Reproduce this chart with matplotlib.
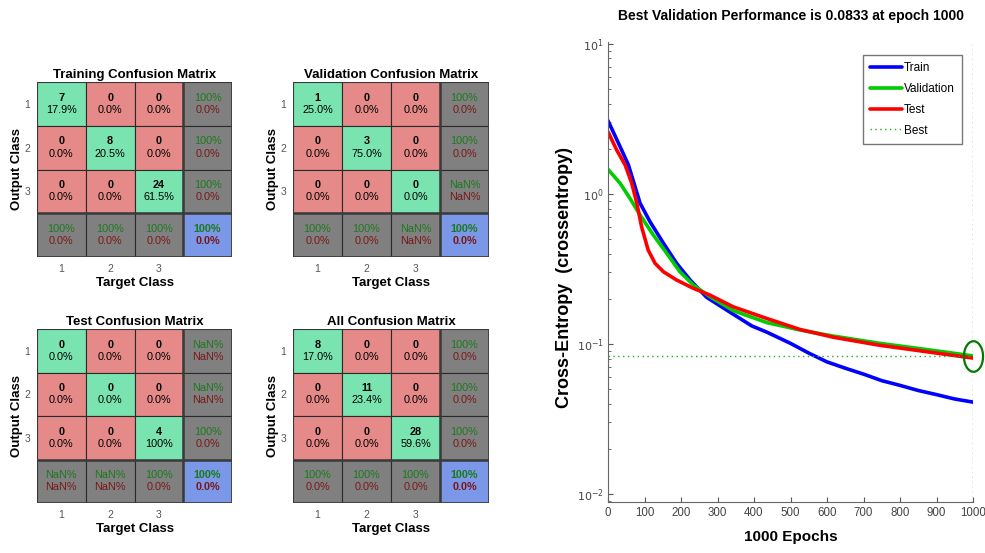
import numpy as np
import matplotlib
matplotlib.use("Agg")
import matplotlib.pyplot as plt
from matplotlib.patches import Rectangle
from matplotlib.path import Path

# confusion matrix counts (rows = output class, cols = target class)
train_counts = [[7, 0, 0], [0, 8, 0], [0, 0, 24]]
val_counts = [[1, 0, 0], [0, 3, 0], [0, 0, 0]]
test_counts = [[0, 0, 0], [0, 0, 0], [0, 0, 4]]
all_counts = [[8, 0, 0], [0, 11, 0], [0, 0, 28]]
class_labels = ["1", "2", "3"]

# performance curves
train_epochs = [0, 33, 56, 74, 88, 115, 152, 188, 225, 270, 343, 394, 435, 500,
                550, 600, 650, 700, 750, 800, 850, 900, 950, 1000]
train_ce = [3.08, 2.07, 1.56, 1.12, 0.867, 0.654, 0.469, 0.345, 0.267, 0.205,
            0.158, 0.132, 0.12, 0.101, 0.087, 0.076, 0.069, 0.063, 0.057, 0.053,
            0.049, 0.046, 0.043, 0.041]
val_epochs = [0, 33, 60, 88, 124, 161, 197, 234, 279, 343, 435, 526, 617, 745,
              800, 900, 1000]
val_ce = [1.46, 1.18, 0.936, 0.724, 0.533, 0.402, 0.303, 0.247, 0.207, 0.167,
          0.139, 0.124, 0.113, 0.101, 0.097, 0.090, 0.0833]
test_epochs = [0, 24, 47, 65, 79, 92, 110, 129, 152, 188, 234, 279, 343, 435,
               526, 617, 745, 800, 900, 1000]
test_ce = [2.60, 1.96, 1.56, 1.18, 0.867, 0.605, 0.423, 0.345, 0.303, 0.267,
           0.235, 0.212, 0.177, 0.148, 0.125, 0.111, 0.098, 0.094, 0.087, 0.0806]
best_epoch = 1000
best_perf = 0.0833

plt.rcParams["font.family"] = ["Liberation Sans", "DejaVu Sans"]

GREEN = "#7AE4B0"
RED = "#E68A89"
GRAY = "#808080"
BLUE = "#7A97E8"
TXT_G = "#1C7A1C"
TXT_R = "#7A1818"
FS = 7.8


def pct(p):
    if np.isnan(p):
        return "NaN%"
    if p == 100:
        return "100%"
    return f"{p:.1f}%"


def rate(num, den):
    if den == 0:
        return np.nan
    return 100.0 * num / den


def cell(ax, j, i, col, top, bottom, c1, c2, bold2=False, bold1=True):
    ax.add_patch(Rectangle((j, i), 1, 1, facecolor=col, edgecolor="#2a2a2a", lw=0.8))
    ax.text(j + 0.5, i + 0.36, top, ha="center", va="center", fontsize=FS,
            color=c1, fontweight="bold" if bold1 else "normal")
    ax.text(j + 0.5, i + 0.64, bottom, ha="center", va="center", fontsize=FS,
            color=c2, fontweight="bold" if bold2 else "normal")


def draw_cm(ax, counts, title):
    c = np.array(counts)
    total = c.sum()
    for i in range(3):
        for j in range(3):
            col = GREEN if i == j else RED
            cell(ax, j, i, col, str(c[i, j]), pct(rate(c[i, j], total)), "black", "black")
    # row summaries (right column)
    for i in range(3):
        r = rate(c[i, i], c[i].sum())
        cell(ax, 3, i, GRAY, pct(r), pct(100 - r), TXT_G, TXT_R, bold1=False)
    # column summaries (bottom row)
    for j in range(3):
        r = rate(c[j, j], c[:, j].sum())
        cell(ax, j, 3, GRAY, pct(r), pct(100 - r), TXT_G, TXT_R, bold1=False)
    r = rate(np.trace(c), total)
    cell(ax, 3, 3, BLUE, pct(r), pct(100 - r), TXT_G, TXT_R, bold2=True)
    ax.plot([3, 3], [0, 4], color="#3a3a3a", lw=1.8)
    ax.plot([0, 4], [3, 3], color="#3a3a3a", lw=1.8)
    ax.add_patch(Rectangle((0, 0), 4, 4, fill=False, edgecolor="#3a3a3a", lw=1.2))
    ax.set_xlim(0, 4)
    ax.set_ylim(4, 0)
    ax.set_xticks([0.5, 1.5, 2.5])
    ax.set_xticklabels(class_labels)
    ax.set_yticks([0.5, 1.5, 2.5])
    ax.set_yticklabels(class_labels)
    ax.tick_params(length=0, labelsize=7.5, labelcolor="#555555", pad=5)
    for s in ax.spines.values():
        s.set_visible(False)
    ax.set_title(title, fontsize=9.5, fontweight="bold", pad=3)
    ax.set_xlabel("Target Class", fontsize=9.5, fontweight="bold", labelpad=2)
    ax.set_ylabel("Output Class", fontsize=9.5, fontweight="bold", labelpad=1)


W, H = 985, 553
fig = plt.figure(figsize=(W / 100, H / 100), dpi=100)


def px_axes(x0, y0, x1, y1):
    return fig.add_axes([x0 / W, 1 - y1 / H, (x1 - x0) / W, (y1 - y0) / H])


draw_cm(px_axes(37, 82, 232, 257), train_counts, "Training Confusion Matrix")
draw_cm(px_axes(293, 82, 489, 257), val_counts, "Validation Confusion Matrix")
draw_cm(px_axes(37, 329, 232, 503), test_counts, "Test Confusion Matrix")
draw_cm(px_axes(293, 329, 489, 503), all_counts, "All Confusion Matrix")

# performance plot
ax = px_axes(608, 42, 973, 502)
line_kw = dict(lw=2.6, solid_joinstyle="round", solid_capstyle="round")
ax.semilogy(train_epochs, train_ce, color="#0000FF", label="Train", **line_kw)
ax.semilogy(val_epochs, val_ce, color="#00CC00", label="Validation", **line_kw)
ax.semilogy(test_epochs, test_ce, color="#FF0000", label="Test", **line_kw)
ax.axhline(best_perf, color="#22AA22", lw=1.0, ls=(0, (1, 2.5)), label="Best")
ax.axvline(best_epoch, color="#22AA22", lw=1.0, ls=(0, (1, 2.5)))
t = np.linspace(0, 2 * np.pi, 60)
ell = Path(np.column_stack([np.cos(t), 1.6 * np.sin(t)]))
ax.plot([best_epoch], [best_perf], marker=ell, ms=22, mfc="none", mec="#007A00",
        mew=1.6, clip_on=False, ls="none")

ax.set_xlim(0, 1000)
ax.set_ylim(10 ** -2.053, 10 ** 1.013)
ax.set_xticks(range(0, 1001, 100))
ax.set_yticks([1e-2, 1e-1, 1e0, 1e1])
ax.set_yticklabels(["$10^{-2}$", "$10^{-1}$", "$10^{0}$", "$10^{1}$"])
ax.tick_params(direction="in", labelcolor="#444444", color="#555555")
ax.tick_params(axis="x", labelsize=8.3)
ax.tick_params(axis="y", labelsize=8, pad=3)
ax.tick_params(which="minor", direction="in", color="#555555")
ax.spines["top"].set_visible(False)
ax.spines["right"].set_visible(False)
ax.spines["left"].set_color("#666666")
ax.spines["bottom"].set_color("#666666")
ax.set_title("Best Validation Performance is 0.0833 at epoch 1000",
             fontsize=10, fontweight="bold", pad=16)
ax.set_xlabel("1000 Epochs", fontsize=11, fontweight="bold", labelpad=8)
ax.set_ylabel("Cross-Entropy  (crossentropy)", fontsize=13, fontweight="bold")
ax.yaxis.set_label_coords(-0.095, 0.488)
leg = ax.legend(loc="upper right", bbox_to_anchor=(0.97, 0.972), borderaxespad=0,
                prop={"size": 8.5}, fancybox=False, edgecolor="#555555",
                handlelength=2.7, handletextpad=0.2, borderpad=0.6, labelspacing=0.75)
leg.get_frame().set_linewidth(1.0)

fig.savefig("out.png", dpi=100)
